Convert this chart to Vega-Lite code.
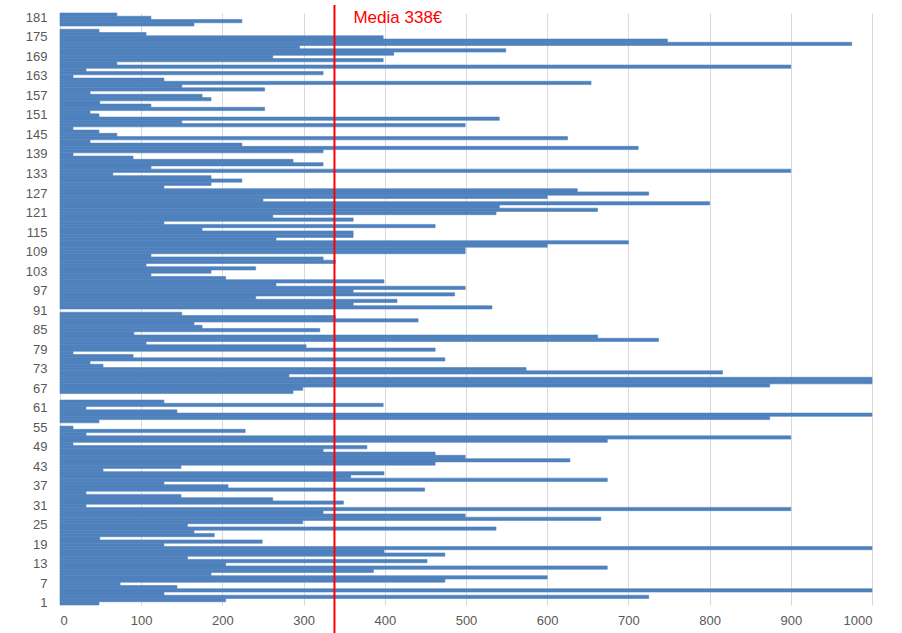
{
  "$schema": "https://vega.github.io/schema/vega-lite/v6.json",
  "width": 812,
  "height": 592,
  "autosize": {"type": "none"},
  "padding": {"left": 60, "top": 13, "right": 30, "bottom": 28},
  "background": "white",
  "config": {"view": {"stroke": null}, "font": "Liberation Sans"},
  "datasets": {
    "bars": [
      {"n":1,"v":48},{"n":2,"v":204},{"n":3,"v":725},{"n":4,"v":128},{"n":5,"v":1000},{"n":6,"v":144},{"n":7,"v":74},{"n":8,"v":474},{"n":9,"v":600},{"n":10,"v":186},
      {"n":11,"v":386},{"n":12,"v":674},{"n":13,"v":204},{"n":14,"v":452},{"n":15,"v":157},{"n":16,"v":474},{"n":17,"v":399},{"n":18,"v":1000},{"n":19,"v":128},{"n":20,"v":249},
      {"n":21,"v":49},{"n":22,"v":190},{"n":23,"v":165},{"n":24,"v":537},{"n":25,"v":157},{"n":26,"v":299},{"n":27,"v":666},{"n":28,"v":499},{"n":29,"v":324},{"n":30,"v":900},
      {"n":31,"v":32},{"n":32,"v":349},{"n":33,"v":262},{"n":34,"v":149},{"n":35,"v":32},{"n":36,"v":449},{"n":37,"v":207},{"n":38,"v":128},{"n":39,"v":674},{"n":40,"v":358},
      {"n":41,"v":399},{"n":42,"v":53},{"n":43,"v":149},{"n":44,"v":462},{"n":45,"v":628},{"n":46,"v":499},{"n":47,"v":462},{"n":48,"v":324},{"n":49,"v":378},{"n":50,"v":16},
      {"n":51,"v":674},{"n":52,"v":900},{"n":53,"v":32},{"n":54,"v":228},{"n":55,"v":16},{"n":56,"v":0},{"n":57,"v":48},{"n":58,"v":874},{"n":59,"v":1000},{"n":60,"v":144},
      {"n":61,"v":32},{"n":62,"v":398},{"n":63,"v":128},{"n":64,"v":0},{"n":65,"v":0},{"n":66,"v":287},{"n":67,"v":299},{"n":68,"v":874},{"n":69,"v":1000},{"n":70,"v":1000},
      {"n":71,"v":282},{"n":72,"v":816},{"n":73,"v":574},{"n":74,"v":53},{"n":75,"v":37},{"n":76,"v":474},{"n":77,"v":90},{"n":78,"v":16},{"n":79,"v":462},{"n":80,"v":303},
      {"n":81,"v":106},{"n":82,"v":737},{"n":83,"v":662},{"n":84,"v":91},{"n":85,"v":320},{"n":86,"v":175},{"n":87,"v":165},{"n":88,"v":441},{"n":89,"v":339},{"n":90,"v":150},
      {"n":91,"v":0},{"n":92,"v":532},{"n":93,"v":361},{"n":94,"v":415},{"n":95,"v":241},{"n":96,"v":486},{"n":97,"v":361},{"n":98,"v":499},{"n":99,"v":266},{"n":100,"v":399},
      {"n":101,"v":204},{"n":102,"v":112},{"n":103,"v":186},{"n":104,"v":241},{"n":105,"v":106},{"n":106,"v":339},{"n":107,"v":324},{"n":108,"v":112},{"n":109,"v":499},{"n":110,"v":499},
      {"n":111,"v":600},{"n":112,"v":700},{"n":113,"v":266},{"n":114,"v":361},{"n":115,"v":361},{"n":116,"v":175},{"n":117,"v":462},{"n":118,"v":128},{"n":119,"v":361},{"n":120,"v":262},
      {"n":121,"v":537},{"n":122,"v":662},{"n":123,"v":541},{"n":124,"v":800},{"n":125,"v":250},{"n":126,"v":600},{"n":127,"v":725},{"n":128,"v":637},{"n":129,"v":128},{"n":130,"v":186},
      {"n":131,"v":224},{"n":132,"v":186},{"n":133,"v":65},{"n":134,"v":900},{"n":135,"v":112},{"n":136,"v":324},{"n":137,"v":287},{"n":138,"v":90},{"n":139,"v":16},{"n":140,"v":324},
      {"n":141,"v":712},{"n":142,"v":224},{"n":143,"v":37},{"n":144,"v":625},{"n":145,"v":70},{"n":146,"v":48},{"n":147,"v":16},{"n":148,"v":499},{"n":149,"v":150},{"n":150,"v":541},
      {"n":151,"v":48},{"n":152,"v":37},{"n":153,"v":252},{"n":154,"v":112},{"n":155,"v":49},{"n":156,"v":186},{"n":157,"v":175},{"n":158,"v":37},{"n":159,"v":252},{"n":160,"v":150},
      {"n":161,"v":654},{"n":162,"v":128},{"n":163,"v":16},{"n":164,"v":324},{"n":165,"v":32},{"n":166,"v":900},{"n":167,"v":70},{"n":168,"v":398},{"n":169,"v":262},{"n":170,"v":411},
      {"n":171,"v":549},{"n":172,"v":295},{"n":173,"v":975},{"n":174,"v":748},{"n":175,"v":398},{"n":176,"v":106},{"n":177,"v":48},{"n":178,"v":0},{"n":179,"v":165},{"n":180,"v":224},
      {"n":181,"v":112},{"n":182,"v":70}
    ],
    "media": [{"m": 338, "t": "Media 338€"}]
  },
  "layer": [
    {
      "data": {"name": "bars"},
      "mark": {"type": "bar", "color": "#4F81BD", "stroke": "#4F81BD"},
      "encoding": {
        "y": {
          "field": "n", "type": "ordinal", "sort": "descending",
          "scale": {"paddingInner": 0, "paddingOuter": 0},
          "axis": {
            "values": [1,7,13,19,25,31,37,43,49,55,61,67,73,79,85,91,97,103,109,115,121,127,133,139,145,151,157,163,169,175,181],
            "title": null, "ticks": false, "domain": false,
            "labelColor": "#595959", "labelFontSize": 13, "labelPadding": 13
          }
        },
        "x": {
          "field": "v", "type": "quantitative",
          "scale": {"domain": [0, 1000], "nice": false},
          "axis": {
            "values": [0,100,200,300,400,500,600,700,800,900,1000],
            "format": "d",
            "title": null, "grid": true, "gridColor": "#d9d9d9", "gridWidth": 1,
            "domain": false, "ticks": false,
            "labelColor": "#595959", "labelFontSize": 13, "labelPadding": 9
          }
        },
        "strokeWidth": {"condition": {"test": "datum.v == 0", "value": 0}, "value": 0.6}
      }
    },
    {
      "data": {"name": "media"},
      "mark": {"type": "rule", "color": "#FF0000", "strokeWidth": 2},
      "encoding": {
        "x": {"field": "m", "type": "quantitative"},
        "y": {"value": -8},
        "y2": {"value": 620}
      }
    },
    {
      "data": {"name": "media"},
      "mark": {"type": "text", "color": "#FF0000", "fontSize": 17, "align": "left", "baseline": "middle", "dx": 19},
      "encoding": {
        "x": {"field": "m", "type": "quantitative"},
        "y": {"value": 5},
        "text": {"field": "t"}
      }
    }
  ]
}
